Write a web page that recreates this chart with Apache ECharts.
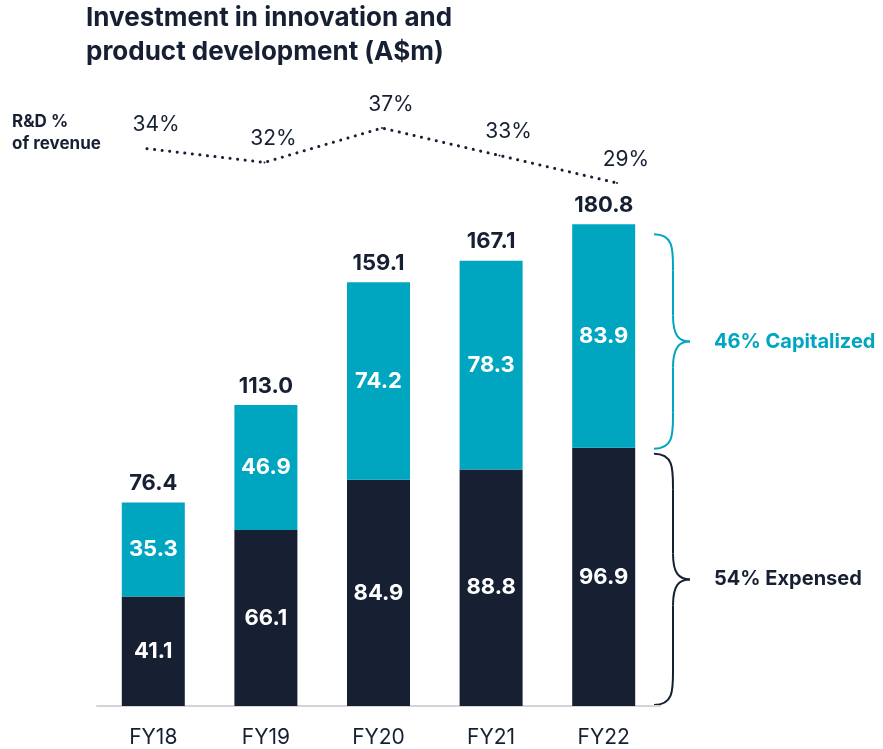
<!DOCTYPE html>
<html>
<head>
<meta charset="utf-8">
<script src="https://cdn.jsdelivr.net/npm/echarts@6/dist/echarts.min.js"></script>
<style>
  html, body { margin: 0; padding: 0; background: #fff; }
  #chart { width: 883px; height: 749px; }
</style>
</head>
<body>
<div id="chart"></div>
<script>
const years = ['FY18', 'FY19', 'FY20', 'FY21', 'FY22']
const expensed = [41.1, 66.1, 84.9, 88.8, 96.9]
const capitalized = [35.3, 46.9, 74.2, 78.3, 83.9]
const totals = [76.4, 113.0, 159.1, 167.1, 180.8]
const rdPercent = [34, 32, 37, 33, 29]

const navy = '#172033'
const teal = '#00a6c0'
const font = 'Inter, "Noto Sans", sans-serif'

const chart = echarts.init(document.getElementById('chart'), null, { renderer: 'canvas' })

const innerLabel = {
  show: true,
  position: 'inside',
  color: '#fff',
  fontFamily: font,
  fontWeight: 'bold',
  fontSize: 22,
  formatter: p => p.value.toFixed(1)
}

chart.setOption({
  animation: false,
  title: {
    text: 'Investment in innovation and\nproduct development (A$m)',
    left: 81,
    top: -4,
    textStyle: {
      color: navy,
      fontFamily: font,
      fontWeight: 'bold',
      fontSize: 26,
      lineHeight: 34
    }
  },
  grid: [
    { left: 97, width: 563, top: 173.2, height: 532.8 },
    { left: 147, width: 470, top: 107.4, height: 103.1 }
  ],
  xAxis: [
    {
      type: 'category',
      gridIndex: 0,
      data: years,
      axisTick: { show: false },
      axisLine: { lineStyle: { color: '#d4d4d8', width: 2 } },
      axisLabel: { color: navy, fontFamily: font, fontSize: 21, margin: 21 }
    },
    {
      type: 'category',
      gridIndex: 1,
      data: years,
      boundaryGap: false,
      show: false
    }
  ],
  yAxis: [
    { type: 'value', gridIndex: 0, min: 0, max: 200, show: false },
    { type: 'value', gridIndex: 1, min: 25, max: 40, show: false }
  ],
  series: [
    {
      name: 'Expensed',
      type: 'bar',
      stack: 'rd',
      barWidth: 63,
      data: expensed,
      itemStyle: { color: navy },
      label: innerLabel
    },
    {
      name: 'Capitalized',
      type: 'bar',
      stack: 'rd',
      barWidth: 63,
      data: capitalized,
      itemStyle: { color: teal },
      label: innerLabel
    },
    {
      name: 'Total',
      type: 'bar',
      barWidth: 63,
      barGap: '-100%',
      data: totals,
      itemStyle: { color: 'rgba(0,0,0,0)' },
      z: 1,
      label: {
        show: true,
        position: 'top',
        distance: 8,
        color: navy,
        fontFamily: font,
        fontWeight: 'bold',
        fontSize: 22,
        formatter: p => p.value.toFixed(1)
      }
    },
    {
      name: 'R&D % of revenue',
      type: 'line',
      xAxisIndex: 1,
      yAxisIndex: 1,
      data: rdPercent,
      symbol: 'circle',
      symbolSize: 2,
      itemStyle: { color: navy },
      lineStyle: { color: navy, width: 3, type: [0.1, 7.5], cap: 'round' },
      label: {
        show: true,
        position: 'top',
        distance: 12,
        offset: [9, 0],
        color: navy,
        fontFamily: font,
        fontSize: 21,
        formatter: p => p.value + '%'
      }
    }
  ]
})

// curly brace built from bezier pieces and straight lines
function brace(x, y1, y2, color) {
  const mid = (y1 + y2) / 2
  const a = x + 19
  const tip = x + 36
  const st = { stroke: color, lineWidth: 2, fill: null }
  const bz = (x1, y1_, c1x, c1y, c2x, c2y, x2, y2_) => ({
    type: 'bezierCurve',
    shape: { x1: x1, y1: y1_, cpx1: c1x, cpy1: c1y, cpx2: c2x, cpy2: c2y, x2: x2, y2: y2_ },
    style: st
  })
  const ln = (x1, y1_, x2, y2_) => ({
    type: 'line',
    shape: { x1: x1, y1: y1_, x2: x2, y2: y2_ },
    style: st
  })
  return [
    bz(x, y1, a + 1, y1, a, y1 + 16, a, y1 + 36),
    ln(a, y1 + 36, a, mid - 26),
    bz(a, mid - 26, a, mid - 6, a + 6, mid, tip, mid),
    bz(tip, mid, a + 6, mid, a, mid + 6, a, mid + 26),
    ln(a, mid + 26, a, y2 - 36),
    bz(a, y2 - 36, a, y2 - 16, a + 1, y2, x, y2)
  ]
}

const last = years.length - 1
const yTop = chart.convertToPixel({ gridIndex: 0 }, [last, totals[last]])[1]
const yMid = chart.convertToPixel({ gridIndex: 0 }, [last, expensed[last]])[1]
const yBot = chart.convertToPixel({ gridIndex: 0 }, [last, 0])[1]
const bx = 654

const capShare = Math.round(capitalized[last] / totals[last] * 100)
const expShare = 100 - capShare

const capTop = yTop + 10, capBot = yMid + 1
const expTop = yMid + 6, expBot = yBot - 1

chart.setOption({
  graphic: [
    {
      type: 'text',
      x: 12,
      y: 111,
      style: { text: 'R&D %\nof revenue', fill: navy, font: 'bold 17px ' + font, lineHeight: 22 }
    },
    ...brace(bx, capTop, capBot, teal),
    ...brace(bx, expTop, expBot, navy),
    {
      type: 'text',
      x: 714,
      y: (capTop + capBot) / 2,
      style: {
        text: capShare + '% Capitalized',
        fill: teal,
        font: 'bold 20px ' + font,
        verticalAlign: 'middle'
      }
    },
    {
      type: 'text',
      x: 714,
      y: (expTop + expBot) / 2,
      style: {
        text: expShare + '% Expensed',
        fill: navy,
        font: 'bold 20px ' + font,
        verticalAlign: 'middle'
      }
    }
  ]
})
</script>
</body>
</html>
